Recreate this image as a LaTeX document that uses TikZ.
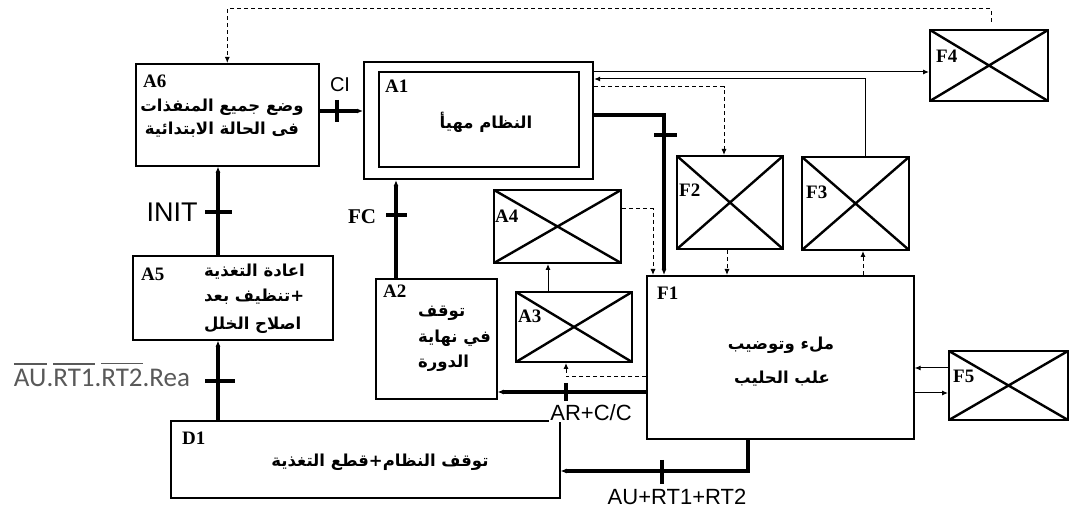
\documentclass[tikz,border=0pt]{standalone}
\usepackage{fontspec}
\setmainfont{Liberation Serif}
\newfontfamily\arabicfont[Script=Arabic, BoldFont={DejaVu Sans Bold}]{DejaVu Sans}
\newfontfamily\arialfont{Liberation Sans}
\newfontfamily\calfont{Carlito}
\TeXXeTstate=1
\newcommand\myovl[1]{\vbox{\hrule height 1.3pt\kern 5pt\hbox{#1}}}
\usetikzlibrary{arrows.meta}
\tikzset{
  box/.style={draw, line width=1.6pt, anchor=north west, inner sep=0pt},
  xbox/.style={box, line width=2pt, path picture={\draw[line width=2.4pt]
      (path picture bounding box.north west) -- (path picture bounding box.south east)
      (path picture bounding box.north east) -- (path picture bounding box.south west);}},
  lbl/.style={font=\fontsize{19}{20}\selectfont\bfseries, inner sep=0pt, anchor=base west},
  ar/.style={font=\arabicfont\bfseries\fontsize{16.5}{18}\selectfont, inner sep=0pt},
  sig/.style={font=\arialfont\fontsize{22}{24}\selectfont, inner sep=1pt},
  thk/.style={line width=3.5pt},
  thn/.style={line width=1pt},
  dsh/.style={line width=1pt, dash pattern=on 4pt off 3pt},
  tip/.style={-{Latex[length=6pt,width=5pt]}}
}
\begin{document}
\begin{tikzpicture}[x=1pt,y=-1pt]
\useasboundingbox (0,0) rectangle (1069,510);
% boxes
\node[box, minimum width=183pt, minimum height=102pt] (A6) at (135,63) {};
\node[box, line width=2.2pt, minimum width=229pt, minimum height=117pt] (A1o) at (363,61) {};
\node[box, line width=2.2pt, minimum width=200pt, minimum height=95pt] (A1i) at (378,71) {};
\node[xbox, minimum width=118pt, minimum height=71pt] (F4) at (929,29) {};
\node[xbox, minimum width=106pt, minimum height=93pt] (F2) at (676,155) {};
\node[xbox, minimum width=107pt, minimum height=93pt] (F3) at (801,156) {};
\node[xbox, minimum width=127pt, minimum height=73pt] (A4) at (493,189) {};
\node[xbox, minimum width=116pt, minimum height=70pt] (A3) at (515,291) {};
\node[box, minimum width=267pt, minimum height=163pt] (F1) at (646,275) {};
\node[xbox, minimum width=119pt, minimum height=69pt] (F5) at (948,350) {};
\node[box, minimum width=121pt, minimum height=120pt] (A2) at (375,278) {};
\node[box, minimum width=200pt, minimum height=84pt] (A5) at (132,255) {};
\node[box, minimum width=389pt, minimum height=77pt] (D1) at (170,420) {};
% box labels
\node[lbl] (lA6) at (143,88) {A6};
\node[lbl] (lA1) at (385,93) {A1};
\node[lbl] (lA2) at (383,298) {A2};
\node[lbl] (lA3) at (518,323) {A3};
\node[lbl] (lA4) at (495,223) {A4};
\node[lbl] (lA5) at (141,281) {A5};
\node[lbl] (lF1) at (657,300) {F1};
\node[lbl] (lF2) at (679,197) {F2};
\node[lbl] (lF3) at (806,199) {F3};
\node[lbl] (lF4) at (936,63) {F4};
\node[lbl] (lF5) at (953,383) {F5};
\node[lbl] (lD1) at (182,445) {D1};
% arabic texts
\node[ar] (tA6a) at (222,107) {\beginR وضع جميع المنفذات\endR};
\node[ar] (tA6b) at (222,130) {\beginR فى الحالة الابتدائية\endR};
\node[ar] (tA1) at (486,122) {\beginR النظام مهيأ\endR};
\node[ar, anchor=west] (tA2a) at (418,313) {\beginR توقف\endR};
\node[ar, anchor=west] (tA2b) at (418,338) {\beginR في نهاية\endR};
\node[ar, anchor=west] (tA2c) at (418,363) {\beginR الدورة\endR};
\node[ar, anchor=west] (tA5a) at (204,272) {\beginR اعادة التغذية\endR};
\node[ar, anchor=west] (tA5b) at (204,297) {\beginR +تنظيف بعد\endR};
\node[ar, anchor=west] (tA5c) at (204,325) {\beginR اصلاح الخلل\endR};
\node[ar] (tF1a) at (781,345) {\beginR ملء وتوضيب\endR};
\node[ar] (tF1b) at (782,379) {\beginR علب الحليب\endR};
\node[ar] (tD1) at (380,462) {\beginR توقف النظام+قطع التغذية\endR};
% connectors
\coordinate (t4) at (991,22);
\draw[dsh,tip] (t4) -- (t4 |- 0,9) -| (A6.north);
\draw[thk,tip] (A6.east |- 0,111) -- (A1o.west |- 0,111);
\draw[thk] (337,100) -- (337,122);
\node[sig, font=\arialfont\fontsize{20}{22}\selectfont] (CI) at (340,85) {CI};
\draw[thn,tip] (A1o.east |- 0,72) -- (F4.west |- 0,72);
\draw[thn,tip] (F3.north -| 865,0) |- (A1o.east |- 0,79);
\draw[dsh,tip] (A1o.east |- 0,87) -| (F2.north -| 724,0);
\draw[thk,tip] (A1o.east |- 0,115) -| (F1.north -| 664,0);
\draw[thk] (654,135) -- (677,135);
\draw[dsh,tip] (F2.south -| 727,0) -- (F1.north -| 727,0);
\draw[dsh,tip] (F1.north -| 863,0) -- (F3.south -| 863,0);
\draw[dsh,tip] (A4.east |- 0,209) -| (F1.north -| 653,0);
\draw[thn,tip] (A3.north -| 548,0) -- (A4.south -| 548,0);
\draw[dsh,tip] (F1.west |- 0,377) -| (A3.south -| 566,0);
\draw[thk,tip] (F1.west |- 0,392) -- (A2.east |- 0,392);
\draw[thk] (566,383) -- (566,401);
\node[sig, fill=white] (ARCC) at (591,413) {AR+C/C};
\draw[thk,tip] (F1.south -| 748,0) |- (D1.east |- 0,471);
\draw[thk] (662,460) -- (662,484);
\node[sig] (AURT) at (677,497) {AU+RT1+RT2};
\draw[thk,tip] (D1.north -| 218,0) -- (A5.south -| 218,0);
\draw[thk] (205,381) -- (235,381);
\node[font=\calfont\fontsize{27}{29}\selectfont, text=black!65, inner sep=0pt, anchor=base] (REA) at (102,387)
  {\myovl{AU}.\myovl{RT1}.\myovl{RT2}.Rea};
\draw[thk,tip] (A5.north -| 218,0) -- (A6.south -| 218,0);
\draw[thk] (205,212) -- (232,212);
\node[sig, font=\arialfont\fontsize{27}{29}\selectfont] (INIT) at (172,212) {INIT};
\draw[thk,tip] (A2.north -| 396,0) -- (A1o.south -| 396,0);
\draw[thk] (386,215) -- (407,215);
\node[font=\fontsize{21}{22}\selectfont\bfseries, inner sep=0pt] (FC) at (362,217) {FC};
\draw[thn,tip] (F5.west |- 0,368) -- (F1.east |- 0,368);
\draw[thn,tip] (F1.east |- 0,393) -- (F5.west |- 0,393);
\end{tikzpicture}
\end{document}
